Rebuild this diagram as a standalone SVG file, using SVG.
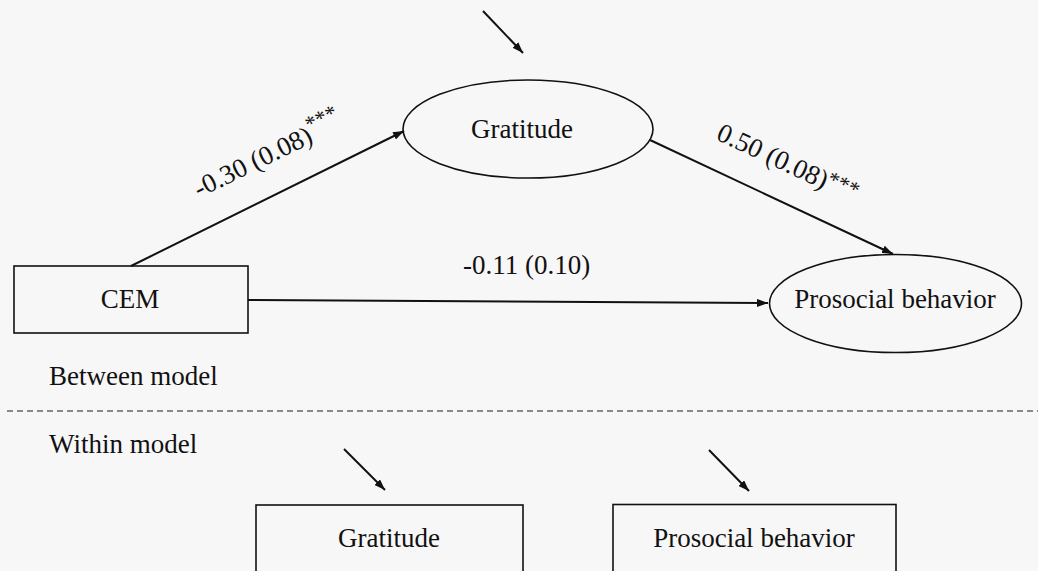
<svg xmlns="http://www.w3.org/2000/svg" width="1038" height="571" viewBox="0 0 1038 571">
<style>
.t{font-family:"Liberation Serif","Times New Roman",serif;font-size:27px;fill:#111}
.sup{font-size:22px}
.node{fill:none;stroke:#111;stroke-width:1.6}
.edge{stroke:#111;stroke-width:2;fill:none}
</style>
<defs>
<marker id="arr" markerUnits="userSpaceOnUse" markerWidth="12" markerHeight="8" refX="11" refY="4" orient="auto">
<path d="M0,0 L11,4 L0,8 z" fill="#111"/>
</marker>
</defs>
<rect x="0" y="0" width="1038" height="571" fill="#f7f7f7"/>
<g id="connectors">
<line class="edge" x1="483" y1="11" x2="523" y2="53" marker-end="url(#arr)"/>
<line class="edge" x1="131" y1="266" x2="404" y2="131" marker-end="url(#arr)"/>
<line class="edge" x1="650" y1="140" x2="893" y2="254" marker-end="url(#arr)"/>
<line class="edge" x1="248" y1="300" x2="768" y2="303" marker-end="url(#arr)"/>
<line class="edge" x1="344" y1="449" x2="385" y2="490" marker-end="url(#arr)"/>
<line class="edge" x1="709" y1="450" x2="749" y2="491" marker-end="url(#arr)"/>
<text class="t" transform="translate(199,198) rotate(-26)">-0.30 (0.08)<tspan class="sup" dy="-11">***</tspan></text>
<text class="t" transform="translate(715,139) rotate(25)">0.50 (0.08)<tspan class="sup" dy="-6">***</tspan></text>
<text class="t" x="463" y="274">-0.11 (0.10)</text>
</g>
<g id="divider">
<line x1="7" y1="411" x2="1038" y2="411" stroke="#666" stroke-width="1.5" stroke-dasharray="6 4"/>
<text class="t" x="49" y="385">Between model</text>
<text class="t" x="49" y="453">Within model</text>
</g>
<g id="cem">
<rect class="node" x="14" y="266" width="234" height="67"/>
<text class="t" x="130" y="308" text-anchor="middle">CEM</text>
</g>
<g id="gratitude-between">
<ellipse class="node" cx="528" cy="129" rx="125" ry="49"/>
<text class="t" x="522" y="138" text-anchor="middle">Gratitude</text>
</g>
<g id="prosocial-between">
<ellipse class="node" cx="895.5" cy="303.5" rx="126" ry="49"/>
<text class="t" x="895" y="308" text-anchor="middle">Prosocial behavior</text>
</g>
<g id="gratitude-within">
<rect class="node" x="256" y="505" width="267" height="80"/>
<text class="t" x="389" y="547" text-anchor="middle">Gratitude</text>
</g>
<g id="prosocial-within">
<rect class="node" x="613" y="504.5" width="283" height="80"/>
<text class="t" x="754" y="547" text-anchor="middle">Prosocial behavior</text>
</g>
</svg>
